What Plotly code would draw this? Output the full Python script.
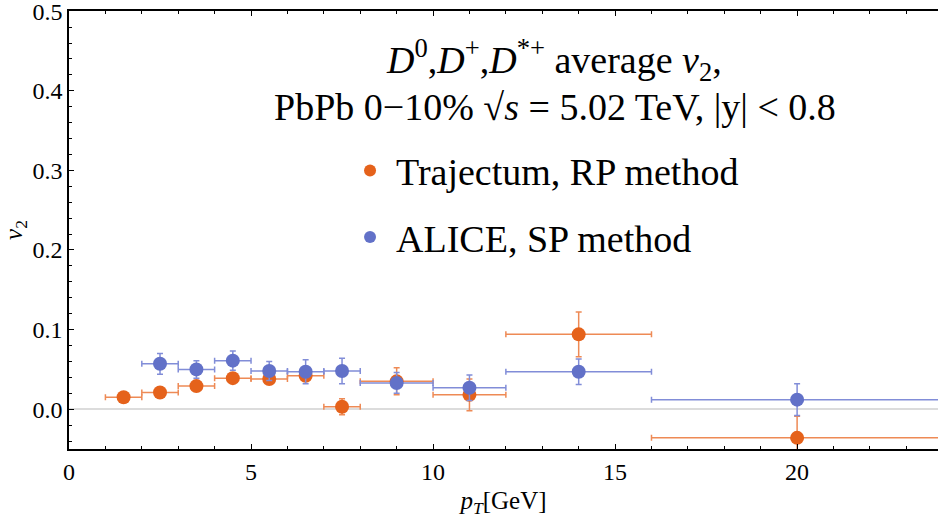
import plotly.graph_objects as go

# Trajectum (RP method)
traj_pt = [1.5, 2.5, 3.5, 4.5, 5.5, 6.5, 7.5, 9.0, 11.0, 14.0, 20.0]
traj_pt_halfwidth = [0.5, 0.5, 0.5, 0.5, 0.5, 0.5, 0.5, 1.0, 1.0, 2.0, 4.0]
traj_v2 = [0.015, 0.021, 0.029, 0.039, 0.038, 0.042, 0.003, 0.035, 0.018, 0.094, -0.036]
traj_err = [0.002, 0.003, 0.004, 0.004, 0.004, 0.006, 0.010, 0.017, 0.020, 0.028, 0.027]

# ALICE (SP method)
alice_pt = [2.5, 3.5, 4.5, 5.5, 6.5, 7.5, 9.0, 11.0, 14.0, 20.0]
alice_pt_halfwidth = [0.5, 0.5, 0.5, 0.5, 0.5, 0.5, 1.0, 1.0, 2.0, 4.0]
alice_v2 = [0.057, 0.050, 0.061, 0.048, 0.047, 0.048, 0.033, 0.027, 0.047, 0.012]
alice_err = [0.013, 0.011, 0.012, 0.012, 0.015, 0.016, 0.013, 0.016, 0.016, 0.020]

ORANGE = "#E5621B"
ORANGE_ERR = "#EE8A55"
BLUE = "#6271C8"
BLUE_ERR = "#818DD8"
FONT = "Liberation Serif"

fig = go.Figure()
fig.add_trace(go.Scatter(
    x=traj_pt, y=traj_v2, mode="markers", name="Trajectum, RP method",
    legendgroup="a",
    marker=dict(color=ORANGE, size=14),
    error_x=dict(type="data", array=traj_pt_halfwidth, color=ORANGE_ERR, thickness=1.5, width=3),
    error_y=dict(type="data", array=traj_err, color=ORANGE_ERR, thickness=1.5, width=3),
))
fig.add_trace(go.Scatter(
    x=alice_pt, y=alice_v2, mode="markers", name="ALICE, SP method",
    legendgroup="b",
    marker=dict(color=BLUE, size=14),
    error_x=dict(type="data", array=alice_pt_halfwidth, color=BLUE_ERR, thickness=1.5, width=3),
    error_y=dict(type="data", array=alice_err, color=BLUE_ERR, thickness=1.5, width=3),
))

axis_common = dict(
    showline=True, linecolor="black", linewidth=1.5,
    ticks="inside", ticklen=5, tickwidth=1.2, tickcolor="black",
    showgrid=False, automargin=False, ticklabeloverflow="allow",
    tickfont=dict(family=FONT, size=24, color="black"),
)

fig.update_xaxes(
    range=[0, 23.87], dtick=5, tick0=0, mirror="ticks", zeroline=False,
    minor=dict(ticks="inside", dtick=1, ticklen=3, tickcolor="black", tickwidth=1),
    title=dict(text="<i>p</i><sub><i>T</i></sub>[GeV]", font=dict(family=FONT, size=25, color="black"), standoff=10),
    **axis_common,
)
fig.update_yaxes(
    range=[-0.05, 0.5002], dtick=0.1, tick0=0, tickformat=".1f", mirror=False,
    zeroline=True, zerolinecolor="#dcdcdc", zerolinewidth=1.5,
    minor=dict(ticks="inside", dtick=0.02, ticklen=3, tickcolor="black", tickwidth=1),
    title=dict(text="<i>v</i><sub>2</sub>", font=dict(family=FONT, size=25, color="black"), standoff=13),
    **axis_common,
)

fig.add_annotation(
    xref="paper", yref="paper", x=0.558, y=0.889, xanchor="center", yanchor="middle",
    text="<i>D</i><sup>0</sup>,<i>D</i><sup>+</sup>,<i>D</i><sup>*+</sup> average <i>v</i><sub>2</sub>,",
    showarrow=False, font=dict(family=FONT, size=38, color="black"),
)
fig.add_annotation(
    xref="paper", yref="paper", x=0.559, y=0.781, xanchor="center", yanchor="middle",
    text="PbPb 0\u221210% \u221a<i>s</i> = 5.02 TeV, |y| &lt; 0.8",
    showarrow=False, font=dict(family=FONT, size=38, color="black"),
)

fig.update_layout(
    width=938, height=518,
    margin=dict(l=69, r=0, t=11, b=69, autoexpand=False),
    font=dict(family=FONT, color="black"),
    paper_bgcolor="white", plot_bgcolor="white",
    hovermode=False,
    showlegend=True,
    legend=dict(
        x=0.3165, y=0.707, xanchor="left", yanchor="top",
        bgcolor="rgba(0,0,0,0)", borderwidth=0,
        font=dict(family=FONT, size=38, color="black"),
        tracegroupgap=14, traceorder="grouped", itemsizing="constant",
        itemwidth=42,
    ),
)

# remove the browser's default 8px body margin so the figure fills the window exactly
fig.write_html(
    "out.html",
    config={"displayModeBar": False},
    post_script="document.body.style.margin='0';document.body.style.overflow='hidden';",
)
